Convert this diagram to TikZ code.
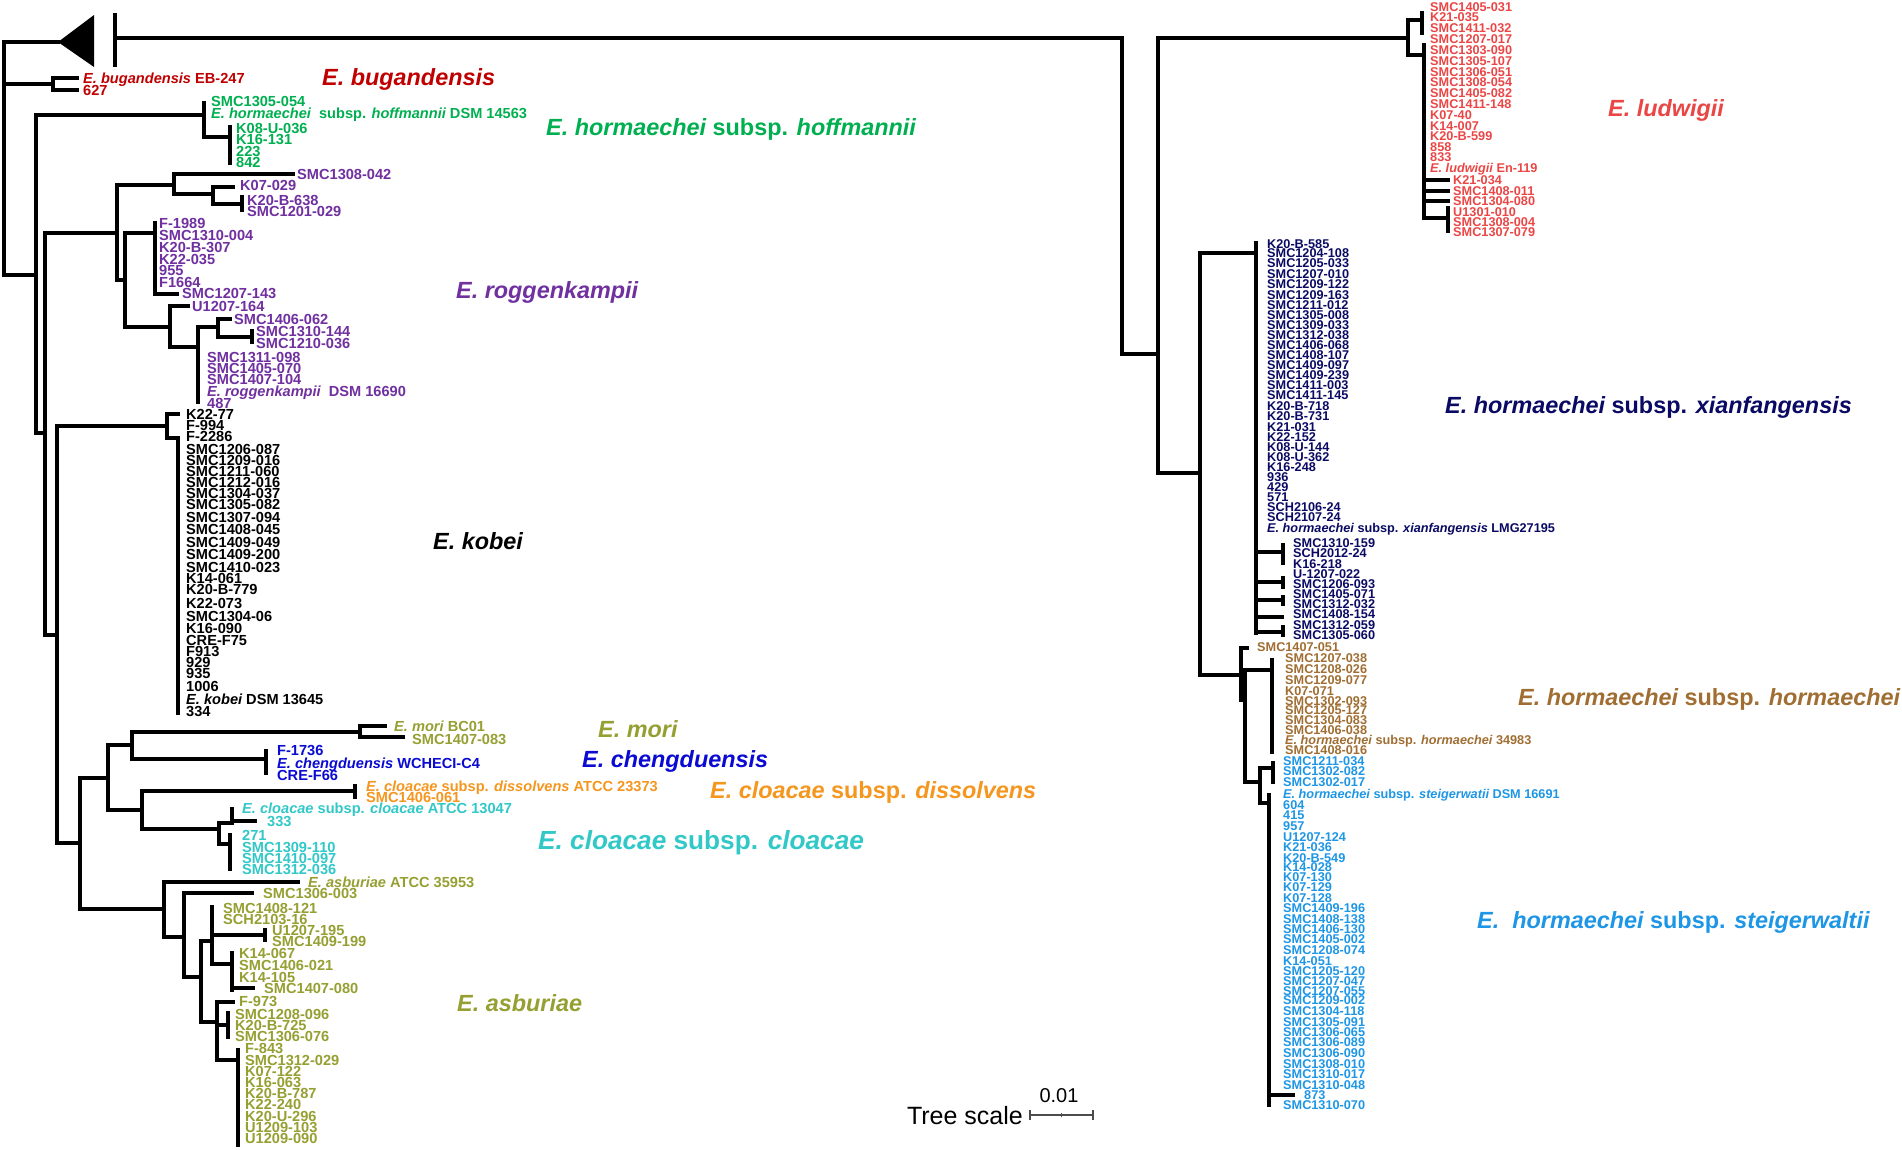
\documentclass[tikz,border=0pt]{standalone}
\usepackage{fontspec}
\setmainfont{Liberation Sans}
\definecolor{cbug}{RGB}{192,0,0}
\definecolor{choff}{RGB}{0,176,80}
\definecolor{crog}{RGB}{112,48,160}
\definecolor{cmori}{RGB}{150,160,50}
\definecolor{ccheng}{RGB}{10,10,210}
\definecolor{cdiss}{RGB}{245,150,30}
\definecolor{cclo}{RGB}{50,200,200}
\definecolor{casb}{RGB}{150,160,50}
\definecolor{clud}{RGB}{235,70,70}
\definecolor{cxian}{RGB}{10,10,100}
\definecolor{chorm}{RGB}{160,110,50}
\definecolor{cstei}{RGB}{30,150,230}
\newcommand\lfontL{\fontsize{14.6}{14.6}\selectfont\bfseries}
\newcommand\lfontR{\fontsize{12.7}{12.7}\selectfont\bfseries}
\newcommand\leafset[4]{%
  \foreach \yy/\t [count=\i] in {#4} {\node[#1] (#2\i) at (#3,\yy) {\t};}}
\tikzset{
  br/.style={line width=3.2pt, line cap=rect},
  lfl/.style={anchor=west, inner sep=0pt, text height=10.45pt, text depth=0pt, font=\lfontL},
  lfr/.style={anchor=west, inner sep=0pt, text height=9.1pt, text depth=0pt, font=\lfontR},
  big/.style={anchor=west, inner sep=0pt, text height=16.75pt, text depth=0pt, font=\fontsize{23.4}{23.4}\selectfont\bfseries},
}
\begin{document}
\begin{tikzpicture}[x=1pt,y=-1pt]
\useasboundingbox (0,0) rectangle (1902,1149);
\fill[white] (0,0) rectangle (1902,1149);
% collapsed clade and break bar
\fill[black] (58,42) -- (94,15) -- (94,67) -- cycle;
\draw[line width=3.2pt] (115,13) -- (115,67);
% ---------------- left tree ----------------
\draw[br]
 (4,42)--(4,275) (4,42)--(58,42) (4,84)--(53,84)
 (53,78)--(53,90) (53,78)--(77,78) (53,90)--(77,90)
 (4,275)--(36,275) (36,115)--(36,433) (36,115)--(204,115)
 (204,103)--(204,137) (204,137)--(230,137) (230,127)--(230,163)
 (36,433)--(45,433) (45,233)--(45,635) (45,233)--(117,233)
 (117,185)--(117,280) (117,185)--(174,185)
 (174,174)--(174,194) (174,174)--(293,174) (174,194)--(213,194)
 (213,187)--(213,204) (213,187)--(233,187) (213,204)--(242,204)
 (242,197)--(242,210)
 (117,280)--(125,280) (125,233)--(125,327) (125,233)--(155,233)
 (155,223)--(155,294) (155,294)--(177,294)
 (125,327)--(170,327) (170,306)--(170,347) (170,306)--(188,306)
 (170,347)--(198,347) (198,327)--(198,402) (198,327)--(218,327)
 (218,319)--(218,337) (218,319)--(230,319) (218,337)--(252,337)
 (252,331)--(252,342)
 (45,635)--(57,635) (57,426)--(57,843) (57,426)--(167,426)
 (167,414)--(167,438) (167,414)--(178,414) (167,438)--(178,438)
 (178,438)--(178,713)
 (57,843)--(80,843) (80,778)--(80,909) (80,778)--(108,778)
 (108,745)--(108,810) (108,745)--(132,745)
 (132,732)--(132,759) (132,732)--(360,732)
 (360,726)--(360,737) (360,726)--(385,726) (360,737)--(403,737)
 (132,759)--(266,759) (266,751)--(266,773)
 (108,810)--(142,810) (142,791)--(142,829) (142,791)--(355,791)
 (355,786)--(355,797)
 (142,829)--(219,829) (219,823)--(219,844) (219,823)--(232,823)
 (232,809)--(232,823) (232,821)--(255,821)
 (219,844)--(230,844) (230,835)--(230,869)
 (80,909)--(164,909) (164,882)--(164,937) (164,882)--(298,882)
 (164,937)--(184,937) (184,893)--(184,977) (184,893)--(252,893)
 (184,977)--(201,977) (201,941)--(201,1022) (201,941)--(212,941)
 (212,907)--(212,964) (212,935)--(265,935) (265,930)--(265,940)
 (212,964)--(232,964) (232,953)--(232,990) (232,988)--(253,988)
 (201,1022)--(217,1022) (217,1002)--(217,1060) (217,1002)--(233,1002)
 (217,1025)--(228,1025) (228,1013)--(228,1037)
 (217,1060)--(238,1060) (238,1050)--(238,1145);
% ---------------- right tree ----------------
\draw[br]
 (115,38)--(1122,38) (1122,38)--(1122,354) (1122,354)--(1158,354)
 (1158,38)--(1158,473) (1158,38)--(1408,38)
 (1408,20)--(1408,55) (1408,20)--(1422,20) (1422,13)--(1422,33)
 (1408,55)--(1424,55) (1424,45)--(1424,218)
 (1424,180)--(1448,180) (1424,191)--(1448,191) (1424,201)--(1448,201)
 (1424,218)--(1448,218) (1448,208)--(1448,231)
 (1158,473)--(1200,473) (1200,253)--(1200,675) (1200,253)--(1256,253)
 (1256,243)--(1256,633)
 (1256,552)--(1283,552) (1283,545)--(1283,563)
 (1256,582)--(1283,582) (1283,578)--(1283,587)
 (1256,600)--(1283,600) (1283,597)--(1283,604)
 (1256,617)--(1282,617)
 (1256,632)--(1283,632) (1283,627)--(1283,635)
 (1200,675)--(1241,675) (1241,648)--(1241,700) (1241,648)--(1247,648)
 (1241,700)--(1245,700) (1245,670)--(1245,782)
 (1245,670)--(1272,670) (1272,660)--(1272,752)
 (1245,782)--(1260,782) (1260,768)--(1260,803)
 (1260,768)--(1273,768) (1273,763)--(1273,782)
 (1260,803)--(1269,803) (1269,795)--(1269,1105) (1269,1095)--(1293,1095);
% ---------------- left leaves ----------------
\leafset{lfl,text=cbug}{bug}{83}{78/{\itshape E. bugandensis} EB-247, 90/627}
\leafset{lfl,text=choff}{hofa}{211}{101/SMC1305-054, 113/{\itshape E. hormaechei}\ \ subsp. {\itshape hoffmannii} DSM 14563}
\leafset{lfl,text=choff}{hofb}{236}{128/K08-U-036, 139/K16-131, 151/223, 162/842}
\leafset{lfl,text=crog}{roga}{297}{174/SMC1308-042}
\leafset{lfl,text=crog}{rogb}{240}{185/K07-029}
\leafset{lfl,text=crog}{rogc}{247}{200/K20-B-638, 211/SMC1201-029}
\leafset{lfl,text=crog}{rogd}{159}{223/F-1989, 235/SMC1310-004, 247/K20-B-307, 259/K22-035, 270/955, 282/F1664}
\leafset{lfl,text=crog}{roge}{182}{293/SMC1207-143}
\leafset{lfl,text=crog}{rogf}{192}{306/U1207-164}
\leafset{lfl,text=crog}{rogg}{234}{319/SMC1406-062}
\leafset{lfl,text=crog}{rogh}{256}{331/SMC1310-144, 343/SMC1210-036}
\leafset{lfl,text=crog}{rogi}{207}{357/SMC1311-098, 368/SMC1405-070, 379/SMC1407-104, 391/{\itshape E. roggenkampii}\ \ DSM 16690, 403/487}
\leafset{lfl,text=black}{kob}{186}{414/K22-77, 425/F-994, 436/F-2286, 449/SMC1206-087, 460/SMC1209-016, 471/SMC1211-060, 482/SMC1212-016, 493/SMC1304-037, 504/SMC1305-082, 517/SMC1307-094, 529/SMC1408-045, 542/SMC1409-049, 554/SMC1409-200, 567/SMC1410-023, 578/K14-061, 589/K20-B-779, 603/K22-073, 616/SMC1304-06, 628/K16-090, 640/CRE-F75, 651/F913, 662/929, 673/935, 686/1006, 699/{\itshape E. kobei} DSM 13645, 711/334}
\leafset{lfl,text=cmori}{mora}{394}{726/{\itshape E. mori} BC01}
\leafset{lfl,text=cmori}{morb}{412}{739/SMC1407-083}
\leafset{lfl,text=ccheng}{che}{277}{750/F-1736, 763/{\itshape E. chengduensis} WCHECI-C4, 775/CRE-F66}
\leafset{lfl,text=cdiss}{dis}{366}{786/{\itshape E. cloacae} subsp. {\itshape dissolvens} ATCC 23373, 797/SMC1406-061}
\leafset{lfl,text=cclo}{cloa}{242}{808/{\itshape E. cloacae} subsp. {\itshape cloacae} ATCC 13047}
\leafset{lfl,text=cclo}{clob}{267}{821/333}
\leafset{lfl,text=cclo}{cloc}{242}{835/271, 847/SMC1309-110, 858/SMC1410-097, 869/SMC1312-036}
\leafset{lfl,text=casb}{asba}{308}{882/{\itshape E. asburiae} ATCC 35953}
\leafset{lfl,text=casb}{asbb}{263}{893/SMC1306-003}
\leafset{lfl,text=casb}{asbc}{223}{908/SMC1408-121, 919/SCH2103-16}
\leafset{lfl,text=casb}{asbd}{272}{930/U1207-195, 941/SMC1409-199}
\leafset{lfl,text=casb}{asbe}{239}{953/K14-067, 965/SMC1406-021, 977/K14-105}
\leafset{lfl,text=casb}{asbf}{264}{988/SMC1407-080}
\leafset{lfl,text=casb}{asbg}{239}{1001/F-973}
\leafset{lfl,text=casb}{asbh}{235}{1014/SMC1208-096, 1025/K20-B-725, 1036/SMC1306-076}
\leafset{lfl,text=casb}{asbi}{245}{1048/F-843, 1060/SMC1312-029, 1071/K07-122, 1082/K16-063, 1093/K20-B-787, 1104/K22-240, 1116/K20-U-296, 1127/U1209-103, 1138/U1209-090}
% ---------------- right leaves ----------------
\leafset{lfr,text=clud}{luda}{1430}{7/SMC1405-031, 17/K21-035, 28/SMC1411-032, 39/SMC1207-017, 50/SMC1303-090, 61/SMC1305-107, 72/SMC1306-051, 82/SMC1308-054, 93/SMC1405-082, 104/SMC1411-148, 115/K07-40, 126/K14-007, 136/K20-B-599, 147/858, 157/833, 168/{\itshape E. ludwigii} En-119}
\leafset{lfr,text=clud}{ludb}{1453}{180/K21-034, 191/SMC1408-011, 201/SMC1304-080, 212/U1301-010, 222/SMC1308-004, 232/SMC1307-079}
\leafset{lfr,text=cxian}{xia}{1267}{244/K20-B-585, 253/SMC1204-108, 263/SMC1205-033, 274/SMC1207-010, 284/SMC1209-122, 295/SMC1209-163, 305/SMC1211-012, 315/SMC1305-008, 325/SMC1309-033, 335/SMC1312-038, 345/SMC1406-068, 355/SMC1408-107, 365/SMC1409-097, 375/SMC1409-239, 385/SMC1411-003, 395/SMC1411-145, 406/K20-B-718, 416/K20-B-731, 427/K21-031, 437/K22-152, 447/K08-U-144, 457/K08-U-362, 467/K16-248, 477/936, 487/429, 497/571, 507/SCH2106-24, 517/SCH2107-24, 528/{\itshape E. hormaechei} subsp. {\itshape xianfangensis} LMG27195}
\leafset{lfr,text=cxian}{xib}{1293}{543/SMC1310-159, 553/SCH2012-24, 564/K16-218, 574/U-1207-022, 584/SMC1206-093, 594/SMC1405-071, 604/SMC1312-032, 614/SMC1408-154, 625/SMC1312-059, 635/SMC1305-060}
\leafset{lfr,text=chorm}{hoa}{1257}{647/SMC1407-051}
\leafset{lfr,text=chorm}{hob}{1285}{658/SMC1207-038, 669/SMC1208-026, 680/SMC1209-077, 691/K07-071, 701/SMC1302-093, 710/SMC1205-127, 720/SMC1304-083, 730/SMC1406-038, 740/{\itshape E. hormaechei} subsp. {\itshape hormaechei} 34983, 750/SMC1408-016}
\leafset{lfr,text=cstei}{sta}{1283}{761/SMC1211-034, 771/SMC1302-082, 782/SMC1302-017, 794/{\itshape E. hormaechei} subsp. {\itshape steigerwatii} DSM 16691, 805/604, 815/415, 826/957, 837/U1207-124, 847/K21-036, 858/K20-B-549, 867/K14-028, 877/K07-130, 887/K07-129, 898/K07-128, 908/SMC1409-196, 919/SMC1408-138, 929/SMC1406-130, 939/SMC1405-002, 950/SMC1208-074, 961/K14-051, 971/SMC1205-120, 981/SMC1207-047, 991/SMC1207-055, 1000/SMC1209-002, 1011/SMC1304-118, 1022/SMC1305-091, 1032/SMC1306-065, 1042/SMC1306-089, 1053/SMC1306-090, 1064/SMC1308-010, 1074/SMC1310-017, 1085/SMC1310-048, 1105/SMC1310-070}
\leafset{lfr,text=cstei}{stb}{1304}{1095/873}
% ---------------- clade labels ----------------
\node[big,text=cbug] (Lbug) at (322,77) {\itshape E. bugandensis};
\node[big,text=choff] (Lhof) at (546,127) {{\itshape E. hormaechei} subsp. {\itshape hoffmannii}};
\node[big,text=crog] (Lrog) at (456,290) {\itshape E. roggenkampii};
\node[big,text=black] (Lkob) at (433,541) {\itshape E. kobei};
\node[big,text=cmori] (Lmor) at (598,729) {\itshape E. mori};
\node[big,text=ccheng] (Lche) at (582,759) {\itshape E. chengduensis};
\node[big,text=cdiss] (Ldis) at (710,790) {{\itshape E. cloacae} subsp. {\itshape dissolvens}};
\node[big,text=cclo,font=\fontsize{26.2}{26.2}\selectfont\bfseries,text height=18.7pt] (Lclo) at (538,840) {{\itshape E. cloacae} subsp. {\itshape cloacae}};
\node[big,text=casb] (Lasb) at (457,1003) {\itshape E. asburiae};
\node[big,text=clud] (Llud) at (1608,108) {\itshape E. ludwigii};
\node[big,text=cxian] (Lxia) at (1445,405) {{\itshape E. hormaechei} subsp. {\itshape xianfangensis}};
\node[big,text=chorm] (Lhor) at (1518,697) {{\itshape E. hormaechei} subsp. {\itshape hormaechei}};
\node[big,text=cstei] (Lste) at (1477,920) {{\itshape E.\ \ hormaechei} subsp. {\itshape steigerwaltii}};
% ---------------- scale bar ----------------
\node[anchor=east, inner sep=0pt, text height=18pt, text depth=0pt, font=\fontsize{25}{25}\selectfont] (tscale) at (1023,1115) {Tree scale};
\coordinate (sbL) at (1030,1115);
\coordinate (sbR) at (1093,1115);
\coordinate (sbM) at (1061.5,1115);
\draw[line width=1.3pt, black!70] (sbL) -- (sbR);
\draw[line width=1.3pt, black!70] ([yshift=-5pt]sbL) -- ([yshift=5pt]sbL);
\draw[line width=1.3pt, black!70] ([yshift=-5pt]sbR) -- ([yshift=5pt]sbR);
\draw[line width=1.3pt, black!70] ([yshift=-2pt]sbM) -- ([yshift=2pt]sbM);
\node[anchor=center, inner sep=0pt, text height=14pt, text depth=0pt, font=\fontsize{20}{20}\selectfont] (sval) at (1059,1095) {0.01};
\end{tikzpicture}
\end{document}
